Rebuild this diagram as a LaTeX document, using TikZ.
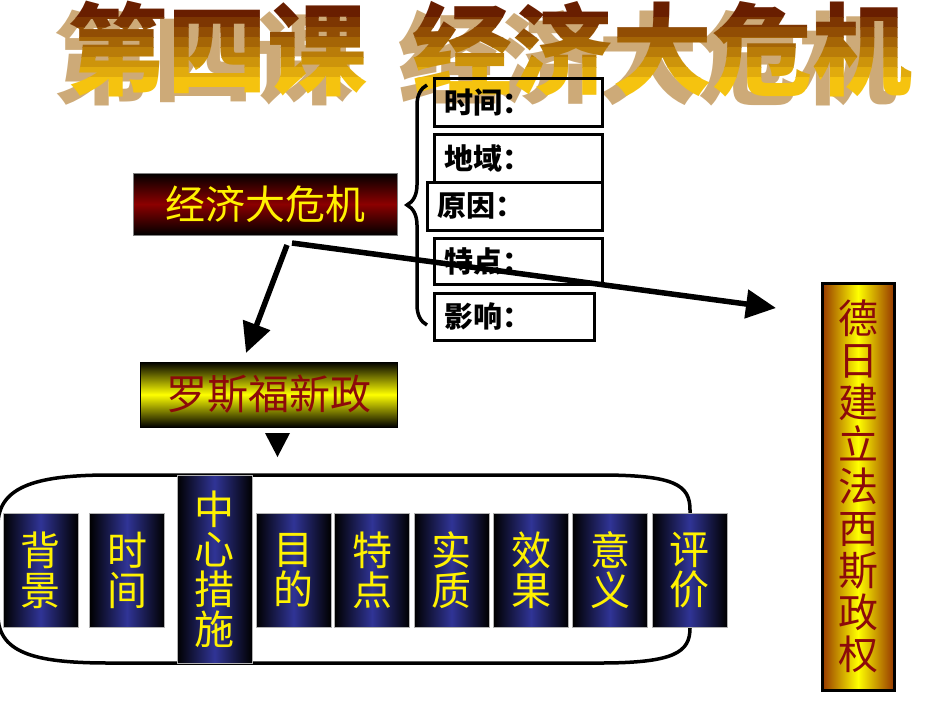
\documentclass[tikz,border=0pt]{standalone}
\usepackage{fontspec}
\setmainfont{Noto Sans CJK SC}
\usetikzlibrary{arrows.meta,decorations.pathreplacing}
\definecolor{crisisred}{RGB}{140,0,0}
\definecolor{dealred}{RGB}{140,10,10}
\definecolor{colblue}{RGB}{48,52,150}
\definecolor{fasbrown}{RGB}{150,55,0}
\definecolor{titlegold}{RGB}{245,195,15}
\definecolor{titlebrown}{RGB}{105,30,0}
\definecolor{titleshadow}{RGB}{205,170,120}
\begin{document}
\begin{tikzpicture}[x=1pt,y=-1pt,
  title/.style={inner sep=0pt, font=\fontsize{100}{100}\selectfont\bfseries},
  info/.style={draw, line width=3pt, inner xsep=10pt, inner ysep=0pt, minimum height=48pt, align=left, font=\fontsize{29}{29}\selectfont\bfseries},
  col/.style={draw=gray!60, left color=black, right color=black, middle color=colblue, minimum width=75pt, minimum height=114pt, inner sep=0pt, align=center, text=yellow, font=\fontsize{40}{40}\selectfont},
  fat/.style={line width=5.5pt, -{Triangle[length=30pt,width=28pt]}}]
\useasboundingbox (0,0) rectangle (950,713);
\node[title, text=titleshadow] (ts) at (476,58) {第四课\hspace{45pt}经济大危机};
\foreach \i in {0,...,7} {
\begin{scope}
\clip (-10,{\i==0 ? -10 : 7+10*\i}) rectangle (960,{\i==7 ? 100 : 17+10*\i});
\pgfmathsetmacro{\p}{100*\i/7}
\node[title, text=titlegold!\p!titlebrown] at (490,49) {第四课\hspace{45pt}经济大危机};
\end{scope}
}
\node[draw=gray, top color=black, bottom color=black, middle color=crisisred, minimum width=264pt, minimum height=62pt, text=yellow, font=\fontsize{40}{40}\selectfont] (k) at (265,204) {经济大危机};
\draw[line width=3.5pt, decorate, decoration={brace, amplitude=20pt}] (427,325) -- (427,85);
\node[info, text width=148pt] (i1) at (518,102.5) {时间：};
\node[info, text width=148pt] (i2) at (518,158.5) {地域：};
\node[info, text width=155pt] (i3) at (514.5,206) {原因：};
\node[info, text width=148pt, minimum height=46pt] (i4) at (518,261) {特点：};
\node[info, text width=140pt, minimum height=47pt] (i5) at (514,316.5) {影响：};
\node[draw=black, thick, top color=black, bottom color=black, middle color=yellow, minimum width=257pt, minimum height=65pt, text=dealred, font=\fontsize{41}{41}\selectfont] (r) at (268.5,394.5) {罗斯福新政};
\fill (265,433) -- (290,433) -- (277.5,457) -- cycle;
\draw[line width=3.5pt] (-2,569) -- (-2,525) .. controls (-2,485) and (40,475) .. (110,475) -- (600,475) .. controls (675,475) and (690,485) .. (690,510) -- (690,628) .. controls (690,652) and (675,663) .. (600,663) -- (110,663) .. controls (40,663) and (-2,655) .. (-2,615) -- cycle;
\node[col] (c1) at (40.5,570) {背\\景};
\node[col] (c2) at (127,570) {时\\间};
\node[col, minimum height=188pt] (c3) at (214.5,569) {中\\心\\措\\施};
\node[col] (c4) at (293.5,570) {目\\的};
\node[col] (c5) at (372,570) {特\\点};
\node[col] (c6) at (451.5,570) {实\\质};
\node[col] (c7) at (531,570) {效\\果};
\node[col] (c8) at (610,570) {意\\义};
\node[col] (c9) at (689.5,570) {评\\价};
\node[draw=black, line width=3pt, left color=fasbrown, right color=fasbrown, middle color=yellow, minimum width=72pt, minimum height=407pt, inner sep=0pt, align=center, text=dealred, font=\fontsize{40}{42}\selectfont] (g) at (858,486.5) {德\\日\\建\\立\\法\\西\\斯\\政\\权};
\coordinate (a1) at (287,245);
\coordinate (b1) at (246,353);
\coordinate (a2) at (292,243);
\coordinate (b2) at (776,308);
\draw[fat] (a1) -- (b1);
\draw[fat] (a2) -- (b2);
\end{tikzpicture}
\end{document}
